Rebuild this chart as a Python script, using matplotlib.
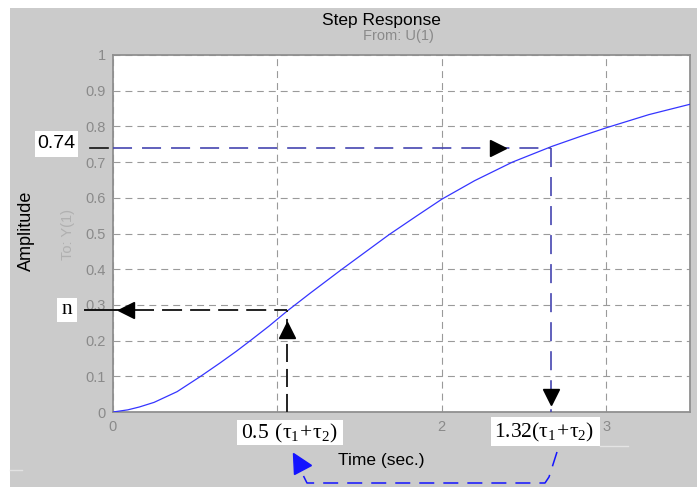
import matplotlib
matplotlib.use("Agg")
import matplotlib.pyplot as plt
from matplotlib.patches import Rectangle
from matplotlib.lines import Line2D
from matplotlib.markers import MarkerStyle

plt.rcParams["lines.scale_dashes"] = False
plt.rcParams["font.family"] = ["Liberation Sans", "DejaVu Sans"]

# Step response samples
time_s = [0, 0.09, 0.16, 0.25, 0.39, 0.53, 0.65, 0.75, 0.83, 0.95, 1.06, 1.2,
          1.39, 1.68, 1.85, 2.0, 2.2, 2.43, 2.67, 2.85, 3.0, 3.26, 3.51]
amplitude = [0, 0.006, 0.014, 0.027, 0.057, 0.099, 0.137, 0.170, 0.198, 0.241,
             0.283, 0.333, 0.399, 0.497, 0.550, 0.596, 0.648, 0.700, 0.744,
             0.773, 0.796, 0.833, 0.862]

x_ticks = [0, 1, 2, 3]
x_tick_labels = ["0", "", "2", "3"]   # the "1" sits under the 0.5(τ1+τ2) label
y_ticks = [0, 0.1, 0.2, 0.3, 0.4, 0.5, 0.6, 0.7, 0.8, 0.9, 1.0]
y_tick_labels = ["0", "0.1", "0.2", "0.3", "0.4", "0.5", "0.6", "0.7",
                 "0.8", "0.9", "1"]

# Marked points on the response
t_half = 1.057      # 0.5 (tau1 + tau2)
n_level = 0.285     # response value n at t_half
t_132 = 2.665       # 1.32 (tau1 + tau2)
level_074 = 0.74    # response value at t_132

W, H = 697, 487
fig = plt.figure(figsize=(W / 100, H / 100), dpi=100, facecolor="white")


def fx(px):
    return px / W


def fy(py):
    return 1 - py / H


# grey window background
fig.add_artist(Rectangle((fx(10), 0), 1 - fx(10), fy(8), transform=fig.transFigure,
                         facecolor="#cbcbcb", edgecolor="none", zorder=-10))
fig.add_artist(Line2D([fx(10), fx(22)], [fy(470), fy(470)], transform=fig.transFigure,
                      color="#e2e2e2", lw=1.0))
fig.add_artist(Line2D([fx(600), fx(628)], [fy(445.5), fy(445.5)], transform=fig.transFigure,
                      color="#e4e4e4", lw=1.0))

AX_L, AX_R, AX_T, AX_B = 113, 690, 55, 412
ax = fig.add_axes([fx(AX_L), fy(AX_B), (AX_R - AX_L) / W, (AX_B - AX_T) / H])
ax.set_facecolor("white")


def ax_fx(px):
    return (px - AX_L) / (AX_R - AX_L)


ax.plot(time_s, amplitude, color="#3535ff", lw=0.9, zorder=3)
ax.set_xlim(0, 3.51)
ax.set_ylim(0, 1)
ax.set_xticks(x_ticks, x_tick_labels)
ax.set_yticks(y_ticks, y_tick_labels)
ax.tick_params(length=0, labelcolor="#8a8a8a", labelsize=10.5)
ax.tick_params(axis="y", pad=5)
ax.tick_params(axis="x", pad=6)
for s in ax.spines.values():
    s.set_color("#909090")
    s.set_linewidth(1.3)
ax.grid(True, color="#9a9a9a", lw=0.8, linestyle=(0, (5, 3.6)))

ytr = ax.get_yaxis_transform()

# n construction (black)
blk_dash = (0, (14.4, 5.8))
ax.plot([ax_fx(85), ax_fx(120)], [n_level, n_level], transform=ytr, color="#111111",
        lw=1.4, clip_on=False, zorder=4)
ax.plot([0.13, t_half], [n_level, n_level], color="#222222", lw=1.4,
        linestyle=blk_dash, clip_on=False, zorder=4)
ax.plot([t_half, t_half], [0, n_level], color="#222222", lw=1.4,
        linestyle=(0, (13, 5)), clip_on=False, zorder=4)
ax.plot([0.08], [n_level], marker="<", ms=11.5, color="black", mec="black",
        clip_on=False, zorder=5)
ax.plot([t_half], [0.23], marker="^", ms=11.5, color="black", mec="black",
        clip_on=False, zorder=5)

# 0.74 construction (blue)
blue_dash = (0, (13.7, 7.2))
ax.plot([ax_fx(90), ax_fx(108)], [level_074, level_074], transform=ytr, color="#111111",
        lw=1.2, clip_on=False, zorder=4)
ax.plot([0, t_132], [level_074, level_074], color="#4545b0", lw=1.2,
        linestyle=blue_dash, clip_on=False, zorder=4)
ax.plot([t_132, t_132], [level_074, 0], color="#4545b0", lw=1.2,
        linestyle=blue_dash, clip_on=False, zorder=4)
ax.plot([2.34], [level_074], marker=">", ms=11.5, color="black", mec="black",
        clip_on=False, zorder=5)
ax.plot([t_132], [0.043], marker="v", ms=11.5, color="black", mec="black",
        clip_on=False, zorder=5)

# connecting arrow between the two time labels
path_x = [557, 549, 545, 307, 301]
path_y = [452, 477, 483, 483, 471]
fig.add_artist(Line2D([fx(p) for p in path_x], [fy(p) for p in path_y],
                      transform=fig.transFigure, color="#1414ff", lw=1.1,
                      linestyle=(0, (10.8, 6.5))))
arrow_head = MarkerStyle("^").rotated(deg=30)
fig.add_artist(Line2D([fx(297.5)], [fy(460.5)], transform=fig.transFigure,
                      marker=arrow_head, ms=14, color="#1414ff", mec="#1414ff",
                      lw=0))

# white label boxes
def label_box(x0, x1, y0, y1):
    fig.add_artist(Rectangle((fx(x0), fy(y1)), (x1 - x0) / W, (y1 - y0) / H,
                             transform=fig.transFigure, facecolor="white",
                             edgecolor="none", zorder=5))


label_box(35, 78, 131, 157)
label_box(57, 77, 298, 322)
label_box(237, 343, 420, 445)
label_box(491, 600, 417, 446)

fig.text(fx(56), fy(144), "0.74", ha="center", va="center", fontsize=14,
         color="black", zorder=6)
fig.text(fx(67), fy(310), "n", ha="center", va="center", fontsize=15.5,
         family="Liberation Serif", color="black", zorder=6)
fig.text(fx(289), fy(433), r"$\mathregular{0.5\ (τ_1\!+\!τ_2)}$", ha="center", va="center",
         fontsize=15.5, family="Liberation Serif", color="black", zorder=6)
fig.text(fx(544), fy(432), r"$\mathregular{1.32(τ_1\!+\!τ_2)}$", ha="center", va="center",
         fontsize=15.5, family="Liberation Serif", color="black", zorder=6)

# titles and axis labels
fig.text(fx(381), fy(20), "Step Response", ha="center", va="center", fontsize=12.5,
         color="black")
fig.text(fx(398), fy(36), "From: U(1)", ha="center", va="center", fontsize=10.5,
         color="#8a8a8a")
fig.text(fx(26), fy(231), "Amplitude", ha="center", va="center", rotation=90,
         fontsize=13, color="black")
fig.text(fx(68), fy(235), "To: Y(1)", ha="center", va="center", rotation=90,
         fontsize=10.5, color="#b0b0b0")
fig.text(fx(381.5), fy(460), "Time (sec.)", ha="center", va="center", fontsize=12.5,
         color="black")

fig.savefig("out.png", dpi=100, facecolor="white")
